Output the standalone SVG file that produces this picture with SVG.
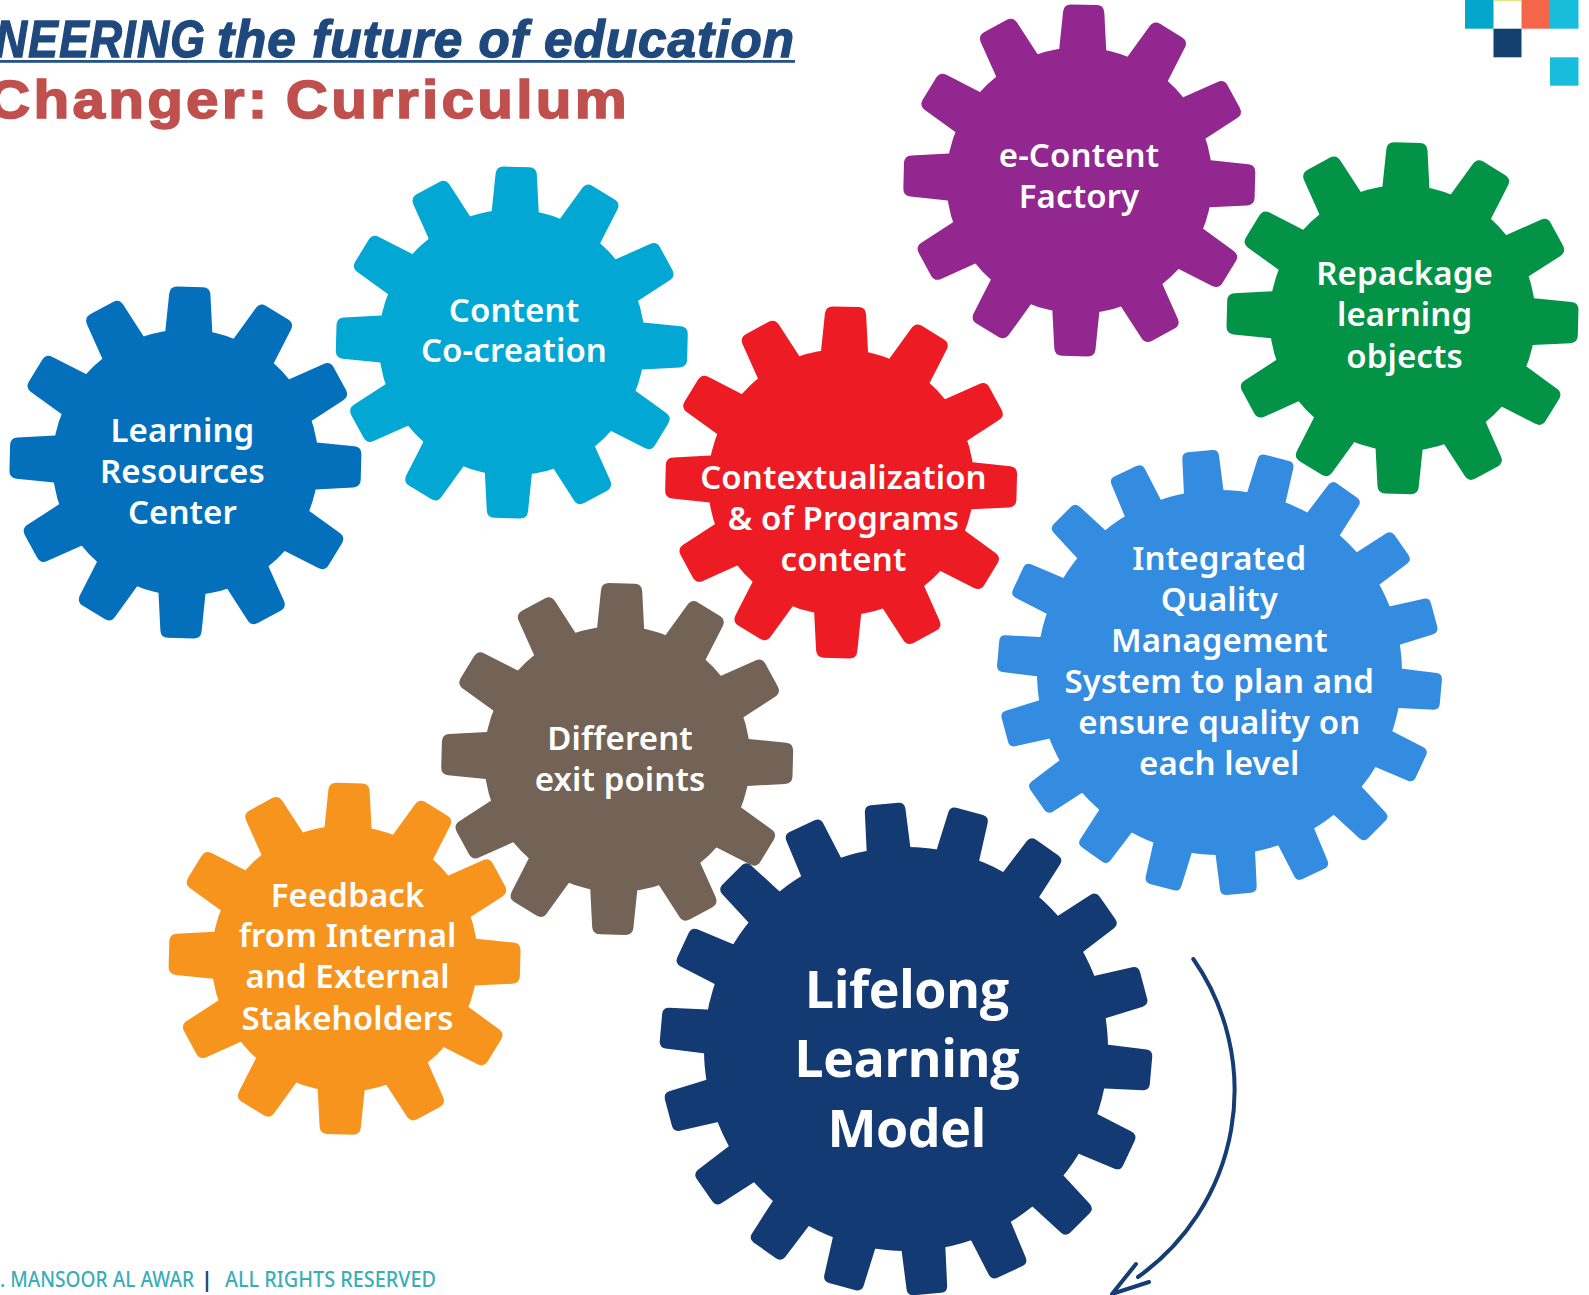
<svg xmlns="http://www.w3.org/2000/svg" xmlns:xlink="http://www.w3.org/1999/xlink" width="1589" height="1295" viewBox="0 0 1589 1295">
<style>
.lbl{font-family:"Noto Sans","Open Sans","Liberation Sans",sans-serif;font-weight:600;font-size:33px;letter-spacing:.1px;fill:#fff;text-anchor:middle}
.big{font-family:"Open Sans","Noto Sans",sans-serif;font-weight:700;font-size:52px;letter-spacing:-.5px}
.conn{fill:none;stroke:#153C73;stroke-width:4;stroke-linecap:round;stroke-linejoin:round}
</style>
<defs>
<path id="t12" d="M-25,-120L-23.5,-131L-20.6,-168.5Q-20,-175.5 -13,-175.7L13,-175.7Q20,-175.5 20.6,-168.5L23.5,-131L25,-120Z"/>
<g id="g12"><circle r="133"/>
<use href="#t12"/><use href="#t12" transform="rotate(30)"/><use href="#t12" transform="rotate(60)"/><use href="#t12" transform="rotate(90)"/><use href="#t12" transform="rotate(120)"/><use href="#t12" transform="rotate(150)"/><use href="#t12" transform="rotate(180)"/><use href="#t12" transform="rotate(210)"/><use href="#t12" transform="rotate(240)"/><use href="#t12" transform="rotate(270)"/><use href="#t12" transform="rotate(300)"/><use href="#t12" transform="rotate(330)"/>
</g>
<path id="t18" d="M-21,-170L-19.8,-182L-18.4,-216.5Q-18,-222 -12.5,-222.2L12.5,-222.2Q18,-222 18.4,-216.5L19.8,-182L21,-170Z"/>
<g id="g18"><circle r="182.5"/>
<use href="#t18"/><use href="#t18" transform="rotate(20)"/><use href="#t18" transform="rotate(40)"/><use href="#t18" transform="rotate(60)"/><use href="#t18" transform="rotate(80)"/><use href="#t18" transform="rotate(100)"/><use href="#t18" transform="rotate(120)"/><use href="#t18" transform="rotate(140)"/><use href="#t18" transform="rotate(160)"/><use href="#t18" transform="rotate(180)"/><use href="#t18" transform="rotate(200)"/><use href="#t18" transform="rotate(220)"/><use href="#t18" transform="rotate(240)"/><use href="#t18" transform="rotate(260)"/><use href="#t18" transform="rotate(280)"/><use href="#t18" transform="rotate(300)"/><use href="#t18" transform="rotate(320)"/><use href="#t18" transform="rotate(340)"/>
</g>
</defs>
<rect width="1589" height="1295" fill="#fff"/>
<g id="title" font-family="Liberation Sans,sans-serif" font-weight="700">
<text x="-5" y="56.5" textLength="211" lengthAdjust="spacingAndGlyphs" letter-spacing="1.5" font-style="italic" font-size="52" fill="#1F497D" stroke="#1F497D" stroke-width="1.4">NEERING</text>
<text x="217" y="56.5" textLength="578" lengthAdjust="spacingAndGlyphs" letter-spacing="1" font-style="italic" font-size="52" fill="#1F497D" stroke="#1F497D" stroke-width="1.4">the future of education</text>
<rect x="0" y="60" width="795" height="2.8" fill="#24528A"/>
<text x="-12" y="118.3" textLength="642" lengthAdjust="spacingAndGlyphs" letter-spacing="3" word-spacing="-4" font-size="54" fill="#C0504D" stroke="#C0504D" stroke-width="1.6">Changer: Curriculum</text>
</g>
<g id="squares">
<rect x="1465" y="0" width="28.5" height="28.7" fill="#05A6CB"/>
<rect x="1493.5" y="0" width="28" height="1" fill="#E3E37A"/>
<rect x="1521.5" y="0" width="28.5" height="28.7" fill="#F4664A"/>
<rect x="1550" y="0" width="28.5" height="28.7" fill="#18BDDC"/>
<rect x="1493.5" y="28.7" width="28" height="28.6" fill="#14406F"/>
<rect x="1550" y="57.3" width="28.5" height="28.4" fill="#18BDDC"/>
</g>
<g id="gear-learning-resources"><use href="#g12" fill="#0470BC" transform="translate(185.4 462.5) rotate(1.5)"/>
<text class="lbl" x="182.4" y="442.2">Learning</text><text class="lbl" x="182.4" y="483">Resources</text><text class="lbl" x="182.4" y="523.8">Center</text></g>
<g id="gear-content"><use href="#g12" fill="#02A7D3" transform="translate(511.8 342.5) rotate(1.5)"/>
<text class="lbl" x="514" y="321.8">Content</text><text class="lbl" x="514" y="362.4">Co-creation</text></g>
<g id="gear-econtent"><use href="#g12" fill="#92278F" transform="translate(1079.3 180.4) rotate(1.5)"/>
<text class="lbl" x="1079" y="166.8">e-Content</text><text class="lbl" x="1079" y="208.2">Factory</text></g>
<g id="gear-repackage"><use href="#g12" fill="#039347" transform="translate(1402.5 318.2) rotate(1.5)"/>
<text class="lbl" x="1404.6" y="285.4">Repackage</text><text class="lbl" x="1404.6" y="326.4">learning</text><text class="lbl" x="1404.6" y="367.5">objects</text></g>
<g id="gear-contextualization"><use href="#g12" fill="#ED1C24" transform="translate(841.1 482.4) rotate(1.5)"/>
<text class="lbl" x="843.5" y="489.1">Contextualization</text><text class="lbl" x="843.5" y="530.2">&amp; of Programs</text><text class="lbl" x="843.5" y="571.2">content</text></g>
<g id="gear-exit"><use href="#g12" fill="#736357" transform="translate(617.2 759) rotate(1.5)"/>
<text class="lbl" x="620" y="750">Different</text><text class="lbl" x="620" y="791.3">exit points</text></g>
<g id="gear-feedback"><use href="#g12" fill="#F7941E" transform="translate(344.6 958.7) rotate(1.5)"/>
<text class="lbl" x="347.6" y="906.6">Feedback</text><text class="lbl" x="347.6" y="947.4">from Internal</text><text class="lbl" x="347.6" y="988.3">and External</text><text class="lbl" x="347.6" y="1029.5">Stakeholders</text></g>
<g id="gear-quality"><use href="#g18" fill="#348CE0" transform="translate(1219.5 672.5) rotate(-5)"/>
<text class="lbl" x="1219.3" y="570">Integrated</text><text class="lbl" x="1219.3" y="610.8">Quality</text><text class="lbl" x="1219.3" y="651.8">Management</text><text class="lbl" x="1219.3" y="692.8">System to plan and</text><text class="lbl" x="1219.3" y="733.8">ensure quality on</text><text class="lbl" x="1219.3" y="774.8">each level</text></g>
<g id="gear-lifelong"><use href="#g18" fill="#133A72" transform="translate(906 1049) rotate(-5) scale(1.107)"/>
<text class="lbl big" x="906.7" y="1008.3">Lifelong</text><text class="lbl big" x="906.7" y="1077.3">Learning</text><text class="lbl big" x="906.7" y="1146.7">Model</text></g>
<g id="connectors">
<path class="conn" d="M1193.3,959A229,229 0 0 1 1138,1277"/>
<path class="conn" d="M1136,1264L1112,1294L1149,1282"/>
</g>
<g id="footer" font-family="Noto Sans,sans-serif" font-size="21.5" font-weight="500">
<text x="0" y="1286.7" fill="#3AAEB6" textLength="194" lengthAdjust="spacingAndGlyphs">. MANSOOR AL AWAR</text>
<text x="201" y="1286.7" fill="#1F497D" font-weight="700">|</text>
<text x="225" y="1286.7" fill="#3AAEB6" textLength="211" lengthAdjust="spacingAndGlyphs">ALL RIGHTS RESERVED</text>
</g>
</svg>
